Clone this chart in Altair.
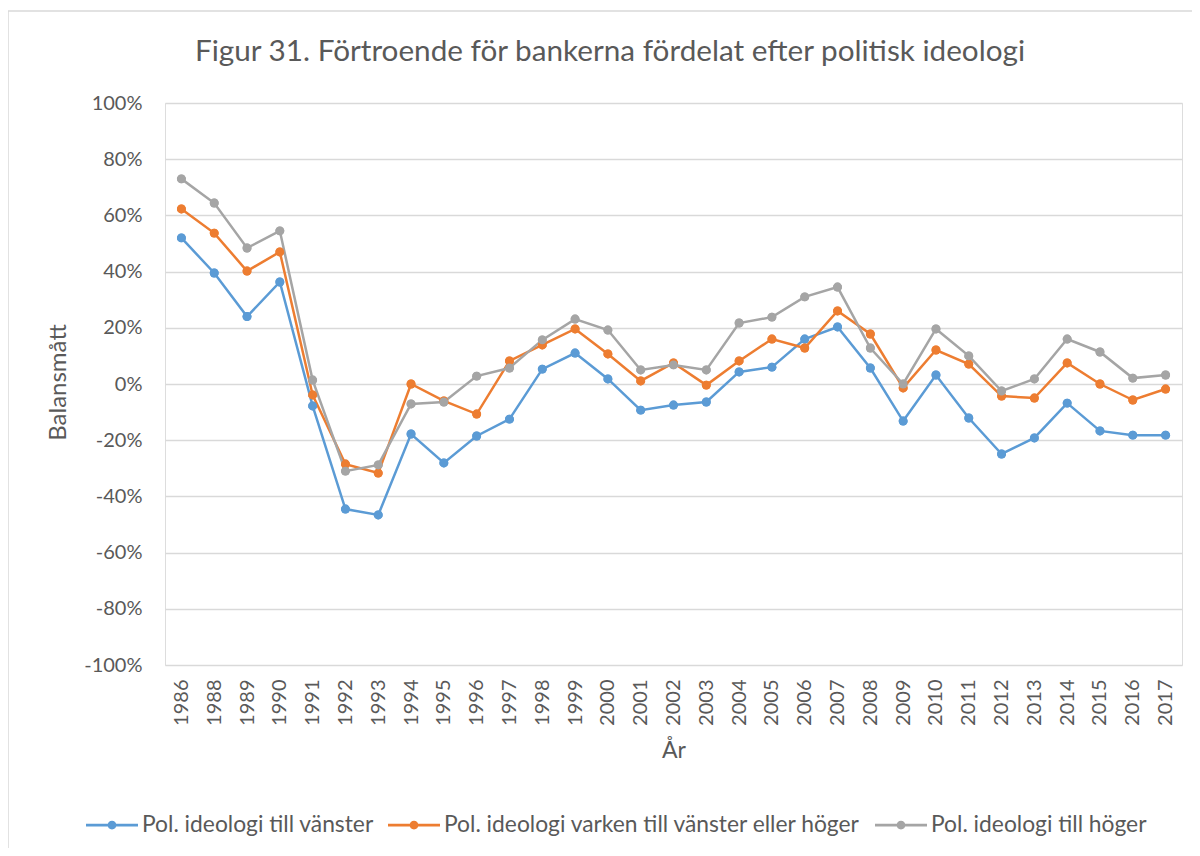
import altair as alt
import pandas as pd

years = ["1986", "1988", "1989", "1990", "1991", "1992", "1993", "1994", "1995", "1996",
         "1997", "1998", "1999", "2000", "2001", "2002", "2003", "2004", "2005", "2006",
         "2007", "2008", "2009", "2010", "2011", "2012", "2013", "2014", "2015", "2016", "2017"]

vanster = [52, 39.5, 24, 36.3, -7.8, -44.5, -46.6, -17.8, -28.1, -18.5,
           -12.5, 5.3, 11, 1.8, -9.3, -7.5, -6.4, 4.3, 6, 16,
           20.3, 5.7, -13.2, 3.2, -12.1, -24.9, -19.2, -6.8, -16.7, -18.2, -18.2]
varken = [62.3, 53.7, 40.2, 47, -3.9, -28.5, -31.7, 0, -6, -10.7,
          8.2, 13.9, 19.6, 10.7, 1.1, 7.5, -0.4, 8.2, 16, 12.8,
          26, 17.8, -1.4, 12.1, 7.1, -4.3, -5, 7.5, 0, -5.7, -1.8]
hoger = [73, 64.4, 48.4, 54.5, 1.4, -31, -28.8, -7.1, -6.4, 2.8,
         5.7, 15.7, 23.1, 19.2, 5, 6.8, 5, 21.7, 23.8, 31,
         34.5, 12.8, 0, 19.6, 10, -2.5, 1.8, 16, 11.4, 2.1, 3.2]

series_names = ["Pol. ideologi till vänster",
                "Pol. ideologi varken till vänster eller höger",
                "Pol. ideologi till höger"]
series_colors = ["#5B9BD5", "#ED7D31", "#A5A5A5"]

rows = []
for name, vals in zip(series_names, [vanster, varken, hoger]):
    for i, (yr, v) in enumerate(zip(years, vals)):
        rows.append({"År": yr, "Serie": name, "Värde": v, "order": i})
df = pd.DataFrame(rows)

FONT = "Lato"
GRAY = "#595959"

legend_symbol = ("M-1,-0.05 L1,-0.05 L1,0.05 L-1,0.05 Z "
                 "M-0.17,0 A0.17,0.17 0 1,1 0.17,0 A0.17,0.17 0 1,1 -0.17,0 Z")

legend = alt.Legend(
    title=None, orient="none", direction="horizontal",
    legendX=-79, legendY=696,
    symbolType=legend_symbol, symbolSize=2704, symbolStrokeWidth=0,
    labelFont=FONT, labelFontSize=22.8, labelColor=GRAY, labelOffset=4,
    columnPadding=14, labelLimit=700,
)

x_enc = alt.X("År:O", sort=years, title="År",
              scale=alt.Scale(type="point", padding=0.5),
              axis=alt.Axis(labelAngle=-90, labelPadding=14, ticks=False, domain=False,
                            grid=False, labelFont=FONT, labelFontSize=20, labelColor=GRAY,
                            titleFont=FONT, titleFontSize=23, titleColor=GRAY,
                            titleFontWeight="normal", titlePadding=14))
y_enc = alt.Y("Värde:Q", title="Balansmått",
              scale=alt.Scale(domain=[-100, 100], nice=False),
              axis=alt.Axis(values=list(range(-100, 101, 20)),
                            labelExpr="datum.value + '%'",
                            ticks=False, domain=False, grid=True,
                            gridColor="#d9d9d9", gridWidth=1.5,
                            labelPadding=23, labelFont=FONT, labelFontSize=20,
                            labelColor=GRAY, titleFont=FONT, titleFontSize=24,
                            titleColor=GRAY, titleFontWeight="normal",
                            titleX=-107, titleY=279, titleAngle=-90,
                            titleAlign="center", titleBaseline="middle"))
color_enc = alt.Color("Serie:N", sort=series_names,
                      scale=alt.Scale(domain=series_names, range=series_colors),
                      legend=legend)

points = alt.Chart(df).mark_point(filled=True, size=80, opacity=1).encode(
    x=x_enc, y=y_enc, color=color_enc)
lines = alt.Chart(df).mark_line(strokeWidth=2.5).encode(
    x=x_enc, y=y_enc, color=color_enc, order="order:Q")
points_top = alt.Chart(df).mark_point(filled=True, size=80, opacity=1).encode(
    x=x_enc, y=y_enc, color=color_enc)

frame = alt.Chart(pd.DataFrame({"a": [0]})).mark_rect(
    fillOpacity=0, stroke="#d9d9d9", strokeWidth=1.5).encode(
    x=alt.value(-157), x2=alt.value(1100), y=alt.value(-92), y2=alt.value(800))

chart = alt.layer(frame, points, lines, points_top).properties(
    width=1017, height=562,
    title=alt.TitleParams(
        "Figur 31. Förtroende för bankerna fördelat efter politisk ideologi",
        font=FONT, fontSize=29.7, fontWeight="normal", color=GRAY,
        anchor="middle", frame="group", dx=-63.5, offset=-80.75,
        baseline="alphabetic"),
    padding={"left": 157, "top": 95, "right": 10, "bottom": 183},
    autosize=alt.AutoSizeParams(type="none"),
).configure_view(stroke=None).configure(background="white")

chart.save("out.html", embed_options={"renderer": "svg", "actions": False})
